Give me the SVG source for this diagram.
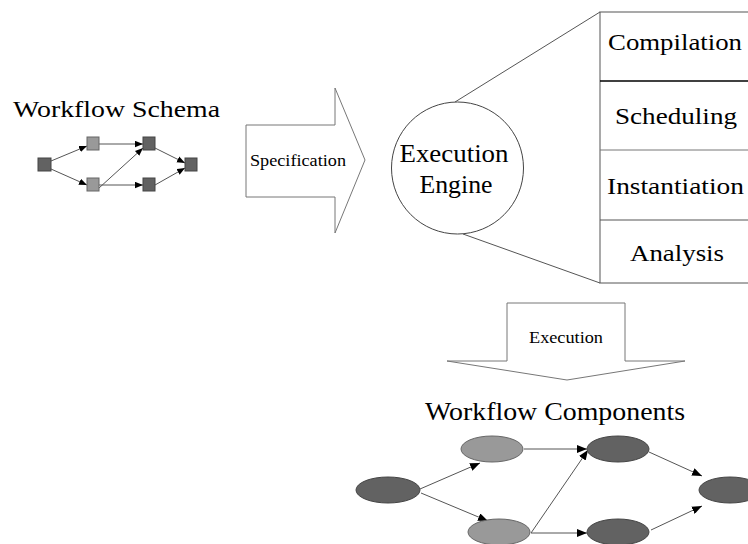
<svg xmlns="http://www.w3.org/2000/svg" width="748" height="544" viewBox="0 0 748 544" font-family="'Liberation Serif', 'DejaVu Serif', serif">
  <defs>
    <marker id="ah" viewBox="0 0 10 8" refX="10" refY="4" markerWidth="10" markerHeight="8" markerUnits="userSpaceOnUse" orient="auto">
      <path d="M0,0 L10,4 L0,8 Z" fill="#000"/>
    </marker>
    <marker id="ahs" viewBox="0 0 10 8" refX="10" refY="4" markerWidth="8" markerHeight="7" markerUnits="userSpaceOnUse" orient="auto">
      <path d="M0,0 L10,4 L0,8 Z" fill="#000"/>
    </marker>
  </defs>
  <style>
    text { font-family: 'Liberation Serif', 'DejaVu Serif', serif; fill: #000; }
    .big { font-size: 24px; }
    .mid { font-size: 25px; }
    .small { font-size: 16px; }
    .edge { stroke: #555; stroke-width: 1; fill: none; }
    .dark { fill: #626262; stroke: #444; stroke-width: 1; }
    .light { fill: #999; stroke: #666; stroke-width: 1; }
    .outline { fill: #fff; stroke: #777; stroke-width: 1; }
  </style>
  <rect width="748" height="544" fill="#fff"/>

  <!-- workflow schema -->
  <g id="schema">
    <text class="big" x="13" y="117" textLength="207" lengthAdjust="spacingAndGlyphs">Workflow Schema</text>
    <g class="edges">
      <line class="edge" x1="51" y1="161" x2="87" y2="146" marker-end="url(#ahs)"/>
      <line class="edge" x1="51" y1="169" x2="87" y2="185" marker-end="url(#ahs)"/>
      <line class="edge" x1="99" y1="144" x2="143" y2="144" marker-end="url(#ahs)"/>
      <line class="edge" x1="99" y1="188" x2="143" y2="148" marker-end="url(#ahs)"/>
      <line class="edge" x1="99" y1="185" x2="143" y2="185" marker-end="url(#ahs)"/>
      <line class="edge" x1="155" y1="148" x2="185" y2="163" marker-end="url(#ahs)"/>
      <line class="edge" x1="155" y1="185" x2="185" y2="168" marker-end="url(#ahs)"/>
    </g>
    <rect class="dark" x="38" y="158" width="13" height="13"/>
    <rect class="light" x="87" y="137" width="12" height="13"/>
    <rect class="light" x="87" y="178" width="12" height="13"/>
    <rect class="dark" x="143" y="137" width="12" height="13"/>
    <rect class="dark" x="143" y="178" width="12" height="13"/>
    <rect class="dark" x="185" y="158" width="12" height="13"/>
  </g>

  <!-- specification arrow -->
  <g id="specification">
    <path class="outline" d="M246,125 L335,125 L335,88 L365,160 L335,233 L335,197 L246,197 Z"/>
    <text class="small" x="298" y="166" text-anchor="middle" textLength="96" lengthAdjust="spacingAndGlyphs">Specification</text>
  </g>

  <!-- execution engine with its components -->
  <g id="engine">
    <line x1="455" y1="102" x2="600" y2="12" stroke="#555" stroke-width="1"/>
    <line x1="463" y1="234" x2="600" y2="283" stroke="#555" stroke-width="1"/>
    <circle cx="457.5" cy="168" r="66" fill="#fff" stroke="#444" stroke-width="1"/>
    <text class="mid" x="454" y="162" text-anchor="middle" textLength="109" lengthAdjust="spacingAndGlyphs">Execution</text>
    <text class="mid" x="456" y="193" text-anchor="middle" textLength="73" lengthAdjust="spacingAndGlyphs">Engine</text>
  </g>
  <g id="components-table">
    <rect x="600" y="12" width="160" height="271" fill="#fff" stroke="#555" stroke-width="1"/>
    <line x1="600" y1="81" x2="760" y2="81" stroke="#000" stroke-width="1.5"/>
    <line x1="600" y1="150" x2="760" y2="150" stroke="#777" stroke-width="1"/>
    <line x1="600" y1="220" x2="760" y2="220" stroke="#555" stroke-width="1"/>
    <text class="big" x="608" y="50" textLength="134" lengthAdjust="spacingAndGlyphs">Compilation</text>
    <text class="big" x="615" y="124" textLength="122" lengthAdjust="spacingAndGlyphs">Scheduling</text>
    <text class="big" x="607" y="194" textLength="137" lengthAdjust="spacingAndGlyphs">Instantiation</text>
    <text class="big" x="630" y="261" textLength="94" lengthAdjust="spacingAndGlyphs">Analysis</text>
  </g>

  <!-- execution arrow -->
  <g id="execution">
    <path class="outline" d="M507,303 L625,303 L625,361 L685,361 L567,380 L447,361 L507,361 Z"/>
    <text class="small" x="566" y="343" text-anchor="middle" textLength="74" lengthAdjust="spacingAndGlyphs">Execution</text>
  </g>

  <!-- workflow components -->
  <g id="components">
    <text class="mid" x="425" y="420" textLength="260" lengthAdjust="spacingAndGlyphs">Workflow Components</text>
  </g>
  <g id="connectors">
    <line class="edge" x1="420" y1="489" x2="480" y2="463" marker-end="url(#ah)"/>
    <line class="edge" x1="421" y1="493" x2="488" y2="521" marker-end="url(#ah)"/>
    <line class="edge" x1="524" y1="449" x2="587" y2="449" marker-end="url(#ah)"/>
    <line class="edge" x1="531" y1="533" x2="588" y2="450" marker-end="url(#ah)"/>
    <line class="edge" x1="531" y1="533" x2="587" y2="533" marker-end="url(#ah)"/>
    <line class="edge" x1="649" y1="452" x2="702" y2="476" marker-end="url(#ah)"/>
    <line class="edge" x1="651" y1="530" x2="702" y2="506" marker-end="url(#ah)"/>
  </g>
  <g id="n1"><ellipse class="dark" cx="388" cy="490" rx="32" ry="13"/></g>
  <g id="n2"><ellipse class="light" cx="492" cy="449" rx="31" ry="13"/></g>
  <g id="n3"><ellipse class="light" cx="499" cy="532" rx="31" ry="13"/></g>
  <g id="n4"><ellipse class="dark" cx="618" cy="449" rx="31" ry="13"/></g>
  <g id="n5"><ellipse class="dark" cx="618" cy="532" rx="31" ry="13"/></g>
  <g id="n6"><ellipse class="dark" cx="730" cy="490" rx="31" ry="13"/></g>
</svg>
